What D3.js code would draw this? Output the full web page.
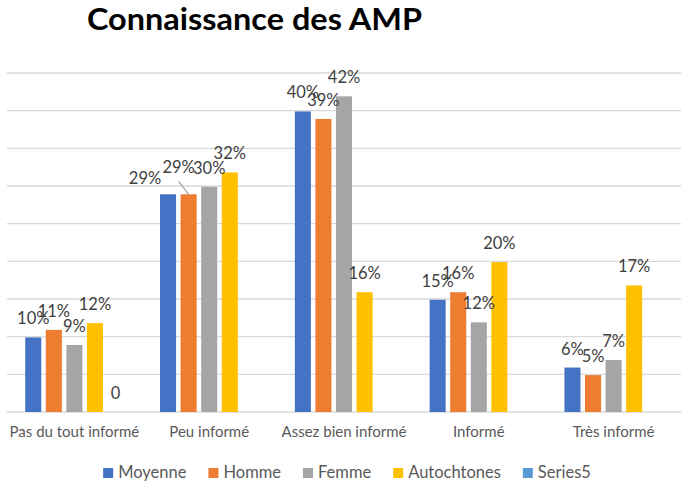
<!DOCTYPE html>
<html>
<head>
<meta charset="utf-8">
<script src="https://cdn.jsdelivr.net/npm/d3@7"></script>
<style>
body { margin: 0; background: #fff; }
text { font-family: Lato, "Open Sans", sans-serif; }
</style>
</head>
<body>
<div id="chart"></div>
<script>
var categories = ["Pas du tout informé", "Peu informé", "Assez bien informé", "Informé", "Très informé"];
var seriesNames = ["Moyenne", "Homme", "Femme", "Autochtones", "Series5"];
var moyenne = [0.099, 0.289, 0.399, 0.149, 0.059];
var homme = [0.109, 0.289, 0.389, 0.159, 0.049];
var femme = [0.089, 0.299, 0.419, 0.119, 0.069];
var autochtones = [0.118, 0.318, 0.159, 0.199, 0.168];
var series5 = [0, null, null, null, null];
var yTicks = [0, 0.05, 0.10, 0.15, 0.20, 0.25, 0.30, 0.35, 0.40, 0.45];
var colors = ["#4472c4", "#ed7d31", "#a5a5a5", "#ffc000", "#5b9bd5"];

var allSeries = [moyenne, homme, femme, autochtones, series5];

// labels that were dragged by hand in the original
var labelNudge = { "1-0": [-23, 3], "1-1": [-10, -8] };

var width = 687, height = 482;
var margin = { top: 73, bottom: 70, left: 7, right: 6 };

var svg = d3.select("#chart")
    .append("svg")
    .attr("width", width)
    .attr("height", height);

// title
svg.append("text")
    .attr("x", 87)
    .attr("y", 30)
    .attr("font-size", 30)
    .attr("font-weight", 700)
    .attr("fill", "#000")
    .attr("textLength", 335)
    .attr("lengthAdjust", "spacingAndGlyphs")
    .text("Connaissance des AMP");

const x0 = d3.scaleBand()
    .domain(categories)
    .range([margin.left, width - margin.right])
    .paddingInner(0.24)
    .paddingOuter(0.12);

const x1 = d3.scaleBand()
    .domain(seriesNames)
    .range([0, x0.bandwidth()])
    .paddingInner(0.22)
    .paddingOuter(0.1);

const y = d3.scaleLinear()
    .domain([0, 0.45])
    .range([height - margin.bottom, margin.top]);

//gridlines
svg.append("g")
    .selectAll("line")
    .data(yTicks)
    .enter()
    .append("line")
    .attr("x1", margin.left)
    .attr("x2", width - margin.right)
    .attr("y1", function (d) { return y(d); })
    .attr("y2", function (d) { return y(d); })
    .attr("stroke", "#d9d9d9")
    .attr("stroke-width", 1.3);

//x-axis labels
var x_axis = d3.axisBottom(x0).tickSize(0).tickPadding(14);
var gx = svg.append("g")
    .attr("transform", "translate(0," + y(0) + ")")
    .call(x_axis);
gx.select(".domain").remove();
gx.selectAll("text")
    .attr("font-size", 15)
    .attr("fill", "#595959")
    .style("font-family", "Lato, sans-serif");

//bars
var bars = [];
allSeries.forEach(function (vals, s) {
    vals.forEach(function (v, c) {
        if (v !== null) bars.push({ s: s, c: c, v: v });
    });
});

svg.append("g")
    .selectAll("rect")
    .data(bars)
    .enter()
    .append("rect")
    .attr("x", function (d) { return x0(categories[d.c]) + x1(seriesNames[d.s]); })
    .attr("y", function (d) { return y(d.v); })
    .attr("width", x1.bandwidth())
    .attr("height", function (d) { return y(0) - y(d.v); })
    .attr("fill", function (d) { return colors[d.s]; });

//leader line for the moved label
var lead = bars.filter(function (d) { return d.c == 1 && d.s == 1; })[0];
var lx = x0(categories[lead.c]) + x1(seriesNames[lead.s]) + x1.bandwidth() / 2;
svg.append("line")
    .attr("x1", lx - 10)
    .attr("y1", y(lead.v) - 13)
    .attr("x2", lx)
    .attr("y2", y(lead.v))
    .attr("stroke", "#a6a6a6")
    .attr("stroke-width", 1.3);

//values
svg.append("g")
    .selectAll("text")
    .data(bars)
    .enter()
    .append("text")
    .text(function (d) { return d.s == 4 ? "0" : Math.round(d.v * 100) + "%"; })
    .attr("x", function (d) {
        var n = labelNudge[d.c + "-" + d.s];
        return x0(categories[d.c]) + x1(seriesNames[d.s]) + x1.bandwidth() / 2 + (n ? n[0] : 0);
    })
    .attr("y", function (d) {
        var n = labelNudge[d.c + "-" + d.s];
        return y(d.v) - 13 + (n ? n[1] : 0);
    })
    .attr("text-anchor", "middle")
    .attr("font-size", 16.5)
    .attr("fill", "#404040");

//legend
var legend = svg.append("g");
var lxPos = 0;
seriesNames.forEach(function (name, i) {
    var g = legend.append("g").attr("transform", "translate(" + lxPos + ",0)");
    g.append("rect")
        .attr("x", 0)
        .attr("y", -10)
        .attr("width", 10)
        .attr("height", 10)
        .attr("fill", colors[i]);
    var t = g.append("text")
        .attr("x", 15)
        .attr("y", 0)
        .attr("font-size", 16.5)
        .attr("fill", "#595959")
        .text(name);
    lxPos += 15 + t.node().getComputedTextLength() + 22;
});
lxPos -= 22;
legend.attr("transform", "translate(" + (347 - lxPos / 2) + ",478)");
</script>
</body>
</html>
